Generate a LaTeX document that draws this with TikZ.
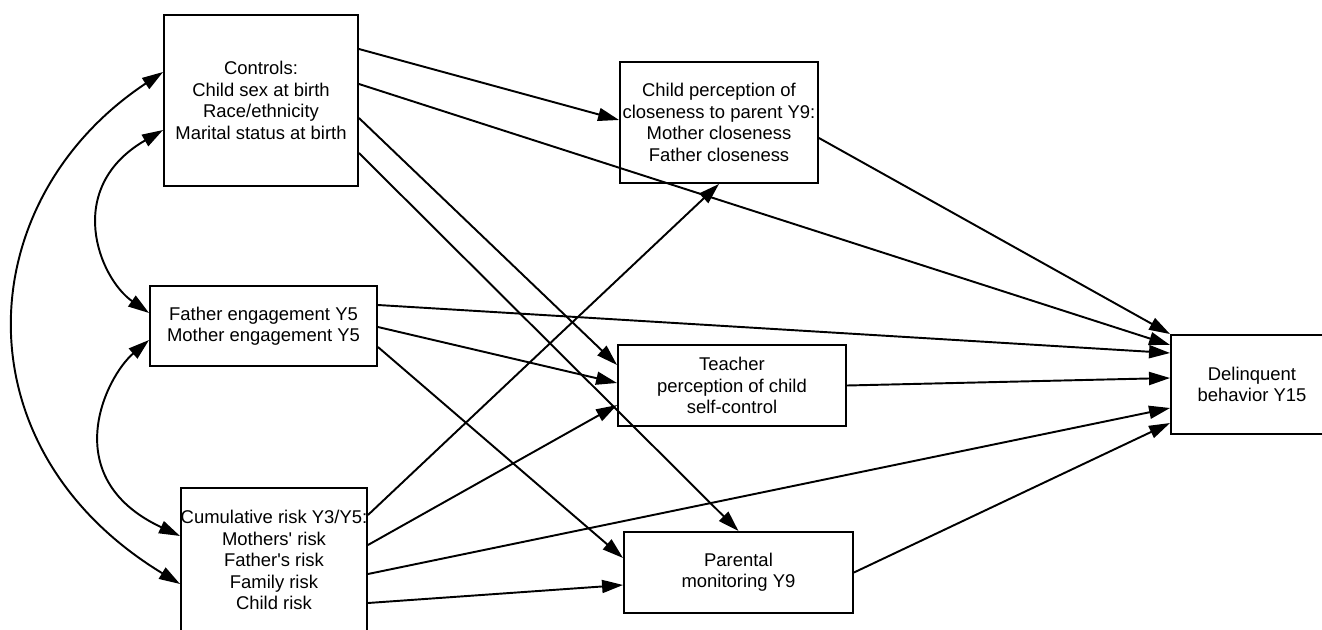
\documentclass[tikz,border=0pt]{standalone}
\usepackage{fontspec}
\setmainfont{Liberation Sans}
\usetikzlibrary{arrows.meta}

\begin{document}
\begin{tikzpicture}[x=0.02cm,y=-0.02cm,
    font=\fontsize{10.5}{12.2}\selectfont,
    >={Triangle[length=0.42cm,width=0.26cm]}]

        \useasboundingbox (0,0) rectangle (1322,629);
        \clip (0,0) rectangle (1322,629);

        \begin{scope}[every node/.style={draw,line width=1.1pt,align=center,inner sep=0pt}]
          \node[minimum width=3.88cm,minimum height=3.42cm] (ctrl)  at (261,100.5)  {Controls:\\Child sex at birth\\Race/ethnicity\\Marital status at birth};
          \node[minimum width=4.54cm,minimum height=1.6cm]  (fath)  at (263.5,326)  {Father engagement Y5\\Mother engagement Y5};
          \node[minimum width=3.72cm,minimum height=2.88cm] (cum)   at (274,560)    {\makebox[0pt]{Cumulative risk Y3/Y5:}\\Mothers\textquotesingle\ risk\\Father\textquotesingle s risk\\Family risk\\Child risk};
          \node[minimum width=3.96cm,minimum height=2.42cm] (child) at (719,122.5)  {Child perception of\\closeness to parent Y9:\\Mother closeness\\Father closeness};
          \node[minimum width=4.56cm,minimum height=1.62cm] (teach) at (732,385.5)  {Teacher\\perception of child\\self-control};
          \node[minimum width=4.58cm,minimum height=1.62cm] (par)   at (738.5,572.5) {Parental\\monitoring Y9};
          \node[minimum width=3.24cm,minimum height=1.98cm] (delin) at (1252,384.5)  {Delinquent\\behavior Y15};
        \end{scope}

        \begin{scope}[every edge/.style={draw,line width=1.1pt,->}]
          \path (ctrl.east |- 0,49)   edge (child.west |- 0,120);
          \path (ctrl.east |- 0,84)   edge (delin.west |- 0,345);
          \path (ctrl.east |- 0,118)  edge (teach.west |- 0,365);
          \path (ctrl.east |- 0,153)  edge (par.north);
          \path (fath.east |- 0,305)  edge (delin.west |- 0,353);
          \path (fath.east |- 0,327)  edge (teach.west |- 0,383);
          \path (fath.east |- 0,347)  edge (par.west |- 0,558);
          \path (cum.east |- 0,515)   edge (child.south);
          \path (cum.east |- 0,545)   edge (teach.west |- 0,405);
          \path (cum.east |- 0,574)   edge (delin.west |- 0,408);
          \path (cum.east |- 0,603)   edge (par.west |- 0,585);
          \path (child.east |- 0,138) edge (delin.north west);
          \path (teach.east)          edge (delin.west |- 0,378);
          \path (par.east)            edge (delin.west |- 0,423);
        \end{scope}

        \draw[line width=1.1pt,<->] (ctrl.west |- 0,72) .. controls (-30,200) and (-44,448) .. (cum.west |- 0,584);
        \draw[line width=1.1pt,<->] (ctrl.west |- 0,130) .. controls (63,188) and (99,278) .. (fath.west |- 0,313);
        \draw[line width=1.1pt,<->] (fath.west |- 0,340) .. controls (105.5,377) and (56,478) .. (cum.west |- 0,536);

      \end{tikzpicture}
\end{document}
